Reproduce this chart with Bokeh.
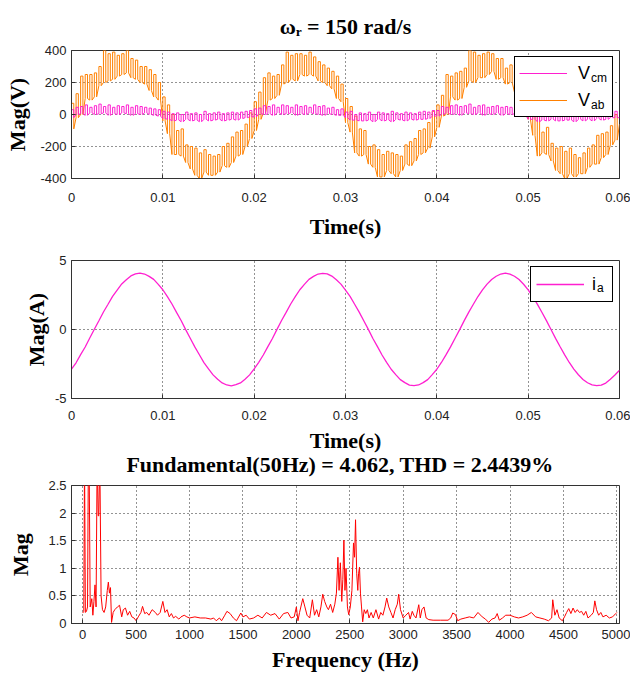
from bokeh.plotting import figure
from bokeh.layouts import column
from bokeh.models import Range1d, FixedTicker, Legend, LegendItem, Title
from bokeh.embed import file_html
from bokeh.resources import INLINE

# ---------------- data ----------------
SAMPLE_PERIOD = 0.0005  # s, one value per 0.5 ms

# line-to-line voltage V_ab: lower / upper level of the switching in each 0.5 ms slot
vab_low = [-90, -20, 0, 100, 90, 110, 180, 200, 210, 220, 240, 250, 260, 230, 220, 200, 190, 150, 110, 90,
           -40, -120, -250, -250, -260, -300, -340, -380, -400, -360, -380, -380, -360, -320, -330, -300, -260, -250, -200, -150,
           -100, -30, 10, 90, 100, 120, 190, 200, 220, 210, 250, 240, 250, 240, 210, 200, 180, 160, 100, 80,
           -50, -110, -240, -260, -250, -310, -330, -390, -390, -350, -370, -390, -350, -310, -320, -290, -250, -240, -210, -140,
           -80, -10, 0, 110, 90, 100, 170, 210, 200, 230, 230, 250, 270, 220, 230, 190, 200, 140, 120, 100,
           -30, -130, -260, -240, -250, -290, -350, -370, -400, -370, -390, -370, -370, -330, -310, -310, -270, -250, -190, -160,
           -60]
vab_high = [70, 130, 240, 250, 250, 260, 300, 400, 380, 390, 370, 380, 400, 350, 340, 300, 300, 280, 250, 200,
            110, 60, 0, -100, -90, -190, -200, -210, -240, -220, -250, -260, -250, -200, -180, -140, -110, -100, -60, 10,
            80, 140, 230, 260, 240, 250, 310, 390, 370, 380, 380, 370, 390, 360, 330, 310, 290, 270, 240, 190,
            100, 50, -10, -90, -100, -200, -190, -220, -250, -230, -240, -250, -260, -190, -170, -150, -100, -90, -50, 20,
            60, 120, 250, 240, 260, 270, 290, 400, 390, 370, 380, 390, 380, 350, 350, 290, 310, 270, 260, 210,
            120, 70, 10, -110, -80, -180, -210, -200, -230, -210, -250, -270, -240, -210, -190, -130, -120, -110, -70, 0,
            70]

# common-mode voltage V_cm
vcm_low = [-20, 0, 5, -5, 10, 0, 5, 10, -5, 5, 0, 10, 5, -5, 5, 0, 10, 0, -5, -10,
           -25, -30, -40, -35, -45, -30, -40, -35, -45, -30, -40, -35, -30, -40, -35, -30, -35, -25, -20, -15,
           -15, 5, 0, 5, -5, 10, 0, 5, 10, -5, 5, 0, 10, 5, 0, -5, 5, 0, -5, -5,
           -20, -35, -35, -40, -40, -35, -45, -30, -40, -35, -45, -30, -35, -40, -30, -35, -30, -30, -25, -10,
           -10, 0, 10, 0, 5, -5, 10, 5, 0, 10, -5, 5, 0, 10, -5, 5, 0, 5, -10, -5,
           -30, -30, -45, -35, -40, -30, -40, -40, -35, -35, -45, -30, -40, -30, -40, -25, -35, -30, -20, -20,
           -20]
vcm_high = [30, 45, 50, 60, 45, 55, 65, 50, 60, 45, 55, 50, 60, 45, 55, 50, 45, 40, 35, 30,
            20, 15, 5, 10, 0, 15, 5, 10, 0, 20, 5, 10, 15, 5, 10, 15, 10, 15, 20, 25,
            35, 40, 55, 50, 60, 45, 60, 55, 45, 60, 50, 55, 45, 60, 50, 55, 40, 45, 30, 35,
            15, 20, 0, 10, 5, 15, 0, 15, 10, 5, 20, 10, 5, 15, 10, 5, 15, 20, 15, 25,
            25, 50, 45, 55, 60, 50, 55, 65, 45, 55, 60, 45, 50, 55, 45, 50, 45, 35, 40, 25,
            20, 10, 10, 0, 15, 5, 10, 0, 15, 10, 5, 15, 0, 10, 15, 5, 10, 15, 25, 20,
            25]

# phase current i_a
ia_values = [-2.87, -2.41, -1.82, -1.27, -0.62, 0.02, 0.63, 1.27, 1.83, 2.40,
             2.86, 3.30, 3.61, 3.88, 4.03, 4.08, 4.02, 3.85, 3.63, 3.27,
             2.88, 2.38, 1.85, 1.24, 0.65, -0.01, -0.63, -1.26, -1.83, -2.40,
             -2.86, -3.29, -3.61, -3.87, -4.02, -4.08, -4.00, -3.87, -3.61, -3.29,
             -2.86, -2.38, -1.85, -1.24, -0.65, 0.01, 0.65, 1.24, 1.85, 2.38,
             2.88, 3.27, 3.63, 3.85, 4.02, 4.07, 4.03, 3.87, 3.61, 3.29,
             2.86, 2.40, 1.83, 1.26, 0.63, 0.01, -0.65, -1.24, -1.85, -2.38,
             -2.88, -3.27, -3.63, -3.85, -4.03, -4.06, -4.02, -3.85, -3.63, -3.27,
             -2.88, -2.39, -1.84, -1.26, -0.63, -0.01, 0.64, 1.26, 1.83, 2.39,
             2.87, 3.29, 3.62, 3.86, 4.02, 4.09, 4.01, 3.86, 3.62, 3.28,
             2.87, 2.39, 1.84, 1.25, 0.64, 0.00, -0.64, -1.25, -1.84, -2.39,
             -2.87, -3.28, -3.62, -3.86, -4.01, -4.07, -4.03, -3.88, -3.60, -3.30,
             -2.95]

# harmonic spectrum of i_a
freq_hz = [0, 10, 17, 25, 35, 45, 56, 70, 85, 95, 105, 115, 125, 135, 145, 150, 160, 172, 185, 200,
           215, 230, 240, 250, 260, 270, 285, 300, 325, 345, 365, 380, 400, 420, 440, 460, 480, 500, 520, 545,
           560, 580, 600, 620, 650, 680, 700, 725, 750, 770, 790, 810, 830, 850, 870, 900, 920, 950, 975, 1000,
           1050, 1100, 1150, 1200, 1225, 1250, 1280, 1300, 1330, 1350, 1380, 1410, 1440, 1480, 1500, 1530, 1560, 1600, 1640, 1680,
           1720, 1760, 1800, 1840, 1880, 1920, 1950, 1980, 2000, 2015, 2030, 2060, 2080, 2100, 2125, 2150, 2170, 2190, 2210, 2230,
           2247, 2265, 2285, 2300, 2320, 2340, 2360, 2375, 2389, 2400, 2412, 2425, 2435, 2445, 2455, 2465, 2478, 2490, 2505, 2520,
           2535, 2545, 2554, 2565, 2575, 2582, 2591, 2600, 2610, 2621, 2635, 2650, 2665, 2680, 2700, 2720, 2745, 2770, 2790, 2810,
           2830, 2846, 2865, 2885, 2905, 2925, 2945, 2958, 2975, 3000, 3025, 3050, 3065, 3085, 3100, 3120, 3146, 3160, 3175, 3195,
           3215, 3240, 3280, 3350, 3420, 3445, 3464, 3490, 3510, 3540, 3580, 3620, 3660, 3700, 3740, 3770, 3800, 3830, 3860, 3880,
           3900, 3930, 3960, 4000, 4040, 4080, 4120, 4160, 4200, 4240, 4280, 4320, 4360, 4390, 4400, 4420, 4440, 4460, 4490, 4510,
           4530, 4550, 4570, 4590, 4610, 4630, 4650, 4670, 4690, 4710, 4730, 4760, 4780, 4794, 4810, 4830, 4850, 4870, 4900, 4930,
           4960, 4990, 5000]
harm_mag = [0.19, 0.22, 3.0, 0.2, 0.22, 0.3, 4.062, 0.3, 0.45, 0.15, 0.4, 0.7, 0.3, 3.0, 1.95, 1.95, 3.0, 0.5, 0.25, 0.2,
            0.3, 0.6, 0.75, 0.55, 0.65, 0.02, 0.2, 0.25, 0.3, 0.33, 0.12, 0.25, 0.28, 0.15, 0.22, 0.12, 0.1, 0.05, 0.12, 0.2,
            0.31, 0.18, 0.2, 0.15, 0.25, 0.2, 0.15, 0.2, 0.4, 0.2, 0.25, 0.12, 0.18, 0.1, 0.13, 0.08, 0.12, 0.15, 0.12, 0.1,
            0.12, 0.1, 0.1, 0.08, 0.1, 0.05, 0.1, 0.05, 0.15, 0.22, 0.18, 0.1, 0.05, 0.19, 0.12, 0.15, 0.08, 0.1, 0.15, 0.1,
            0.2, 0.15, 0.18, 0.08, 0.18, 0.2, 0.1, 0.12, 0.3, 0.05, 0.2, 0.45, 0.3, 0.15, 0.1, 0.43, 0.15, 0.25, 0.12, 0.3,
            0.53, 0.4, 0.3, 0.25, 0.35, 0.2, 0.35, 0.55, 1.2, 0.6, 1.1, 0.4, 0.8, 1.51, 0.6, 1.0, 0.3, 0.16, 0.3, 0.6,
            1.46, 1.2, 1.88, 0.9, 0.6, 0.9, 1.02, 0.55, 0.3, 0.03, 0.25, 0.18, 0.25, 0.1, 0.2, 0.1, 0.25, 0.08, 0.2, 0.15,
            0.3, 0.46, 0.3, 0.2, 0.1, 0.25, 0.35, 0.53, 0.25, 0.1, 0.15, 0.2, 0.08, 0.22, 0.15, 0.1, 0.34, 0.1, 0.25, 0.3,
            0.1, 0.07, 0.06, 0.06, 0.06, 0.1, 0.19, 0.16, 0.05, 0.08, 0.1, 0.12, 0.1, 0.2, 0.12, 0.08, 0.02, 0.08, 0.1, 0.18,
            0.06, 0.1, 0.15, 0.15, 0.12, 0.1, 0.12, 0.15, 0.2, 0.12, 0.1, 0.08, 0.05, 0.1, 0.43, 0.15, 0.25, 0.1, 0.05, 0.12,
            0.2, 0.27, 0.18, 0.28, 0.2, 0.25, 0.2, 0.22, 0.15, 0.22, 0.1, 0.15, 0.2, 0.41, 0.25, 0.15, 0.2, 0.12, 0.15, 0.1,
            0.12, 0.18, 0.2]

time_ticks = [0, 0.01, 0.02, 0.03, 0.04, 0.05, 0.06]
time_tick_labels = ["0", "0.01", "0.02", "0.03", "0.04", "0.05", "0.06"]
volt_ticks = [-400, -200, 0, 200, 400]
volt_tick_labels = ["-400", "-200", "0", "200", "400"]
amp_ticks = [-5, 0, 5]
amp_tick_labels = ["-5", "0", "5"]
freq_ticks = [0, 500, 1000, 1500, 2000, 2500, 3000, 3500, 4000, 4500, 5000]
freq_tick_labels = ["0", "500", "1000", "1500", "2000", "2500", "3000", "3500", "4000", "4500", "5000"]
mag_ticks = [0, 0.5, 1, 1.5, 2, 2.5]
mag_tick_labels = ["0", "0.5", "1", "1.5", "2", "2.5"]

title_top = "\u03c9\u1d63 = 150 rad/s"
title_spectrum = "Fundamental(50Hz)  = 4.062, THD =  2.4439%"

# ---------------- helpers ----------------
SERIF = "Liberation Serif"
SANS = "Liberation Sans"
ORANGE = "#ff8000"
MAGENTA = "#ff1fd0"
RED = "#ff0000"
BIG = "22px"

time_s = [i * SAMPLE_PERIOD for i in range(len(ia_values))]


def switching_path(t, low, high):
    xs, ys = [], []
    for i in range(len(t) - 1):
        mid = (t[i] + t[i + 1]) / 2
        xs += [t[i], t[i], mid, mid]
        ys += [low[i], high[i], high[i], low[i]]
    xs.append(t[-1])
    ys.append(low[-1])
    return xs, ys


def style(p, xt, xl, yt, yl, xlabel, ylabel, x_std, x_lab_std, y_lab_std):
    p.xaxis.ticker = FixedTicker(ticks=xt)
    p.xaxis.major_label_overrides = dict(zip(xt, xl))
    p.yaxis.ticker = FixedTicker(ticks=yt)
    p.yaxis.major_label_overrides = dict(zip(yt, yl))
    for ax in (p.xaxis[0], p.yaxis[0]):
        ax.major_tick_in = 4
        ax.major_tick_out = 0
        ax.minor_tick_line_color = None
        ax.axis_line_color = "#333333"
        ax.major_tick_line_color = "#333333"
        ax.major_label_text_font = SANS
        ax.major_label_text_font_size = "13px"
        ax.major_label_text_color = "#222222"
        ax.axis_label_text_font = SERIF
        ax.axis_label_text_font_style = "bold"
        ax.axis_label_text_font_size = BIG
        ax.axis_label_text_color = "black"
    p.xaxis.axis_label = xlabel
    p.yaxis.axis_label = ylabel
    p.xaxis.major_label_standoff = x_std
    p.xaxis.axis_label_standoff = x_lab_std
    p.yaxis.major_label_standoff = 5
    p.yaxis.axis_label_standoff = y_lab_std
    for g in (p.xgrid[0], p.ygrid[0]):
        g.grid_line_color = "black"
        g.grid_line_dash = "1 3"
        g.grid_line_alpha = 0.85
        g.grid_line_width = 1
    p.outline_line_color = "#333333"
    p.outline_line_width = 1
    p.outline_line_alpha = 1
    p.background_fill_color = "white"
    p.border_fill_color = "white"


def make_legend(p, items, pad, lw, std):
    leg = Legend(items=items, location="top_right", margin=6, padding=pad, spacing=3,
                 glyph_width=48, glyph_height=24, label_height=24, label_width=lw,
                 label_standoff=std, border_line_color="black", border_line_width=1,
                 border_line_alpha=1, background_fill_alpha=1, label_text_color="black",
                 label_text_font=SANS, label_text_font_size="18px")
    p.add_layout(leg)


def subscript_legend(p, items, margin, pad, std):
    # a second, transparent legend that only writes the small subscripts after the main labels
    leg = Legend(items=items, location="top_left", margin=margin, padding=pad, spacing=3,
                 glyph_width=0, glyph_height=24, label_height=24, label_width=10,
                 label_standoff=std, border_line_color=None, background_fill_alpha=0,
                 label_text_color="black", label_text_baseline="alphabetic",
                 label_text_font=SANS, label_text_font_size="12px")
    p.add_layout(leg)


def bold_title(text, standoff):
    return Title(text=text, align="center", vertical_align="top", standoff=standoff,
                 text_font=SERIF, text_font_style="bold", text_font_size=BIG, text_color="black")


# ---------------- figure 1 : voltages ----------------
p1 = figure(width=630, height=246, x_range=Range1d(0, 0.06), y_range=Range1d(-400, 400),
            output_backend="svg", toolbar_location=None, title=None,
            min_border_top=50, min_border_bottom=68, min_border_left=71, min_border_right=11)
p1.add_layout(bold_title(title_top, 20), "above")
style(p1, time_ticks, time_tick_labels, volt_ticks, volt_tick_labels, "Time(s)", "Mag(V)", 14, 9, 7)

xab, yab = switching_path(time_s, vab_low, vab_high)
xcm, ycm = switching_path(time_s, vcm_low, vcm_high)
r_ab = p1.line(xab, yab, line_color=ORANGE, line_width=1)
r_cm = p1.line(xcm, ycm, line_color=MAGENTA, line_width=1)
make_legend(p1, [LegendItem(label="V", renderers=[r_cm]), LegendItem(label="V", renderers=[r_ab])], 4, 30, 11)
subscript_legend(p1, [LegendItem(label="cm", renderers=[r_cm]), LegendItem(label="ab", renderers=[r_ab])], 16, 4, 504)

# ---------------- figure 2 : current (carries the spectrum title below its axis) ----------------
p2 = figure(width=630, height=232, x_range=Range1d(0, 0.06), y_range=Range1d(-5, 5),
            output_backend="svg", toolbar_location=None, title=None,
            min_border_top=14, min_border_bottom=80, min_border_left=68, min_border_right=11)
style(p2, time_ticks, time_tick_labels, amp_ticks, amp_tick_labels, "Time(s)", "Mag(A)", 12, 5, 3)
r_ia = p2.line(time_s, ia_values, line_color=MAGENTA, line_width=1.3)
make_legend(p2, [LegendItem(label="i", renderers=[r_ia])], 5, 15, 8)
subscript_legend(p2, [LegendItem(label="a", renderers=[r_ia])], 16, 5, 510)
p2.add_layout(bold_title(title_spectrum, -8), "below")

# ---------------- figure 3 : spectrum ----------------
p3 = figure(width=630, height=196, x_range=Range1d(-105, 5025), y_range=Range1d(0, 2.5),
            output_backend="svg", toolbar_location=None, title=None,
            min_border_top=7, min_border_bottom=49, min_border_left=68, min_border_right=11)
style(p3, freq_ticks, freq_tick_labels, mag_ticks, mag_tick_labels, "Frequency (Hz)", "Mag", 6, 5, 12)
p3.line(freq_hz, harm_mag, line_color=RED, line_width=1)

layout = column(p1, p2, p3, spacing=0)
open("out.html", "w").write(file_html(layout, INLINE))
